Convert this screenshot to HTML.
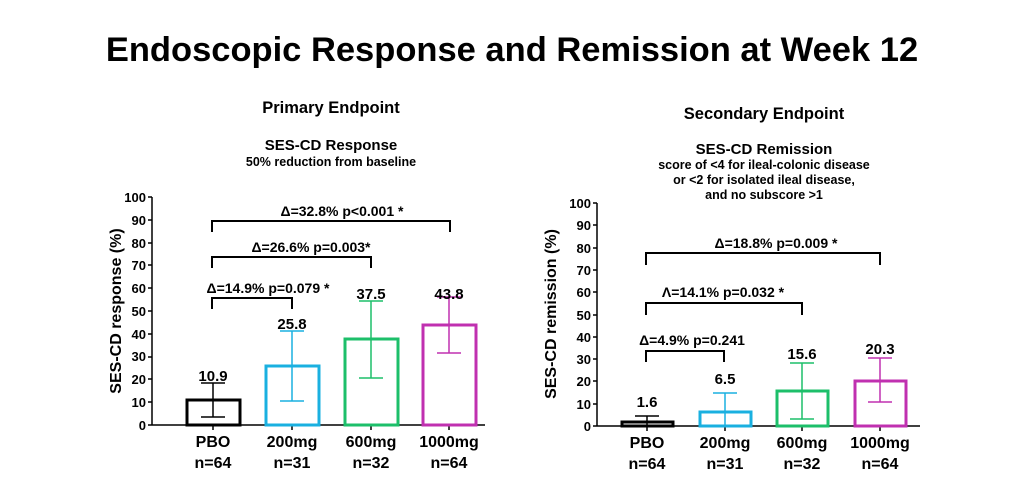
<!DOCTYPE html>
<html><head><meta charset="utf-8"><style>
html,body{margin:0;padding:0;background:#fff;}
svg text{font-family:"Liberation Sans",Arial,sans-serif;font-weight:bold;fill:#000;}
</style></head><body>
<svg width="1023" height="490" viewBox="0 0 1023 490" xmlns="http://www.w3.org/2000/svg">
<text x="512" y="61" font-size="34.5" text-anchor="middle">Endoscopic Response and Remission at Week 12</text>

<!-- Left -->
<text x="331" y="113" font-size="16.5" text-anchor="middle">Primary Endpoint</text>
<text x="331" y="150" font-size="15" text-anchor="middle">SES-CD Response</text>
<text x="331" y="166" font-size="12.5" text-anchor="middle">50% reduction from baseline</text>
<g font-size="13" text-anchor="end">
<text x="146" y="430">0</text><text x="146" y="407">10</text><text x="146" y="384">20</text><text x="146" y="361">30</text><text x="146" y="339">40</text><text x="146" y="316">50</text><text x="146" y="293">60</text><text x="146" y="270">70</text><text x="146" y="248">80</text><text x="146" y="225">90</text><text x="146" y="202">100</text>
</g>
<g stroke="#000" stroke-width="1.5">
<line x1="152" y1="197" x2="152" y2="425"/><line x1="152" y1="425" x2="485" y2="425"/>
<line x1="148" y1="425" x2="152" y2="425"/><line x1="148" y1="402" x2="152" y2="402"/><line x1="148" y1="379" x2="152" y2="379"/><line x1="148" y1="357" x2="152" y2="357"/><line x1="148" y1="334" x2="152" y2="334"/><line x1="148" y1="311" x2="152" y2="311"/><line x1="148" y1="288" x2="152" y2="288"/><line x1="148" y1="265" x2="152" y2="265"/><line x1="148" y1="243" x2="152" y2="243"/><line x1="148" y1="220" x2="152" y2="220"/><line x1="148" y1="197" x2="152" y2="197"/>
<line x1="213" y1="425" x2="213" y2="430"/><line x1="292" y1="425" x2="292" y2="430"/><line x1="371" y1="425" x2="371" y2="430"/><line x1="449" y1="425" x2="449" y2="430"/>
</g>
<text transform="translate(121,311) rotate(-90)" font-size="16" text-anchor="middle">SES-CD response (%)</text>
<g fill="none" stroke-width="3">
<rect x="187" y="400" width="53" height="25" stroke="#000"/>
<rect x="266" y="366" width="53" height="59" stroke="#1ab0e0"/>
<rect x="345" y="339" width="53" height="86" stroke="#1dbf6a"/>
<rect x="423" y="325" width="53" height="100" stroke="#c030b0"/>
</g>
<g stroke-width="1.5" fill="none">
<path d="M213 417V383M201 417h24M201 383h24" stroke="#000"/>
<path d="M292 401V331M280 401h24M280 331h24" stroke="#1ab0e0"/>
<path d="M371 378V301M359 378h24M359 301h24" stroke="#1dbf6a"/>
<path d="M449 353V297M437 353h24M437 297h24" stroke="#c030b0"/>
</g>
<g font-size="15" text-anchor="middle">
<text x="213" y="381">10.9</text><text x="292" y="329">25.8</text><text x="371" y="299">37.5</text><text x="449" y="299">43.8</text>
</g>
<g stroke="#000" stroke-width="2" fill="none">
<path d="M212 232V221H450V232"/><path d="M212 268V257H371V268"/><path d="M212 309V298H292V309"/>
</g>
<g font-size="14" text-anchor="middle">
<text x="342" y="216">Δ=32.8% p&lt;0.001 *</text><text x="311" y="252">Δ=26.6% p=0.003*</text><text x="268" y="293">Δ=14.9% p=0.079 *</text>
</g>
<g font-size="16" text-anchor="middle">
<text x="213" y="447">PBO</text><text x="213" y="468">n=64</text>
<text x="292" y="447">200mg</text><text x="292" y="468">n=31</text>
<text x="371" y="447">600mg</text><text x="371" y="468">n=32</text>
<text x="449" y="447">1000mg</text><text x="449" y="468">n=64</text>
</g>

<!-- Right -->
<text x="764" y="119" font-size="16.5" text-anchor="middle">Secondary Endpoint</text>
<text x="764" y="154" font-size="15" text-anchor="middle">SES-CD Remission</text>
<text x="764" y="169" font-size="12.5" text-anchor="middle">score of &lt;4 for ileal-colonic disease</text>
<text x="764" y="184" font-size="12.5" text-anchor="middle">or &lt;2 for isolated ileal disease,</text>
<text x="764" y="199" font-size="12.5" text-anchor="middle">and no subscore &gt;1</text>
<g font-size="13" text-anchor="end">
<text x="591" y="431">0</text><text x="591" y="409">10</text><text x="591" y="386">20</text><text x="591" y="364">30</text><text x="591" y="342">40</text><text x="591" y="320">50</text><text x="591" y="297">60</text><text x="591" y="275">70</text><text x="591" y="253">80</text><text x="591" y="230">90</text><text x="591" y="208">100</text>
</g>
<g stroke="#000" stroke-width="1.5">
<line x1="597" y1="203" x2="597" y2="426"/><line x1="597" y1="426" x2="920" y2="426"/>
<line x1="593" y1="426" x2="597" y2="426"/><line x1="593" y1="404" x2="597" y2="404"/><line x1="593" y1="381" x2="597" y2="381"/><line x1="593" y1="359" x2="597" y2="359"/><line x1="593" y1="337" x2="597" y2="337"/><line x1="593" y1="315" x2="597" y2="315"/><line x1="593" y1="292" x2="597" y2="292"/><line x1="593" y1="270" x2="597" y2="270"/><line x1="593" y1="248" x2="597" y2="248"/><line x1="593" y1="225" x2="597" y2="225"/><line x1="593" y1="203" x2="597" y2="203"/>
<line x1="647" y1="426" x2="647" y2="431"/><line x1="725" y1="426" x2="725" y2="431"/><line x1="802" y1="426" x2="802" y2="431"/><line x1="880" y1="426" x2="880" y2="431"/>
</g>
<text transform="translate(556,314) rotate(-90)" font-size="16" text-anchor="middle">SES-CD remission (%)</text>
<g fill="none" stroke-width="3">
<rect x="622" y="422" width="51" height="4" stroke="#000"/>
<rect x="700" y="412" width="51" height="14" stroke="#1ab0e0"/>
<rect x="777" y="391" width="51" height="35" stroke="#1dbf6a"/>
<rect x="855" y="381" width="51" height="45" stroke="#c030b0"/>
</g>
<g stroke-width="1.5" fill="none">
<path d="M647 426V416M635 416h24" stroke="#000"/>
<path d="M725 426V393M713 393h24" stroke="#1ab0e0"/>
<path d="M802 419V363M790 419h24M790 363h24" stroke="#1dbf6a"/>
<path d="M880 402V358M868 402h24M868 358h24" stroke="#c030b0"/>
</g>
<g font-size="15" text-anchor="middle">
<text x="647" y="407">1.6</text><text x="725" y="384">6.5</text><text x="802" y="359">15.6</text><text x="880" y="354">20.3</text>
</g>
<g stroke="#000" stroke-width="2" fill="none">
<path d="M646 265V253H880V265"/><path d="M646 315V303H802V315"/><path d="M646 362V351H724V362"/>
</g>
<g font-size="14" text-anchor="middle">
<text x="776" y="248">Δ=18.8% p=0.009  *</text><text x="723" y="297">Λ=14.1% p=0.032 *</text><text x="692" y="345">Δ=4.9% p=0.241</text>
</g>
<g font-size="16" text-anchor="middle">
<text x="647" y="448">PBO</text><text x="647" y="469">n=64</text>
<text x="725" y="448">200mg</text><text x="725" y="469">n=31</text>
<text x="802" y="448">600mg</text><text x="802" y="469">n=32</text>
<text x="880" y="448">1000mg</text><text x="880" y="469">n=64</text>
</g>
</svg>
</body></html>
